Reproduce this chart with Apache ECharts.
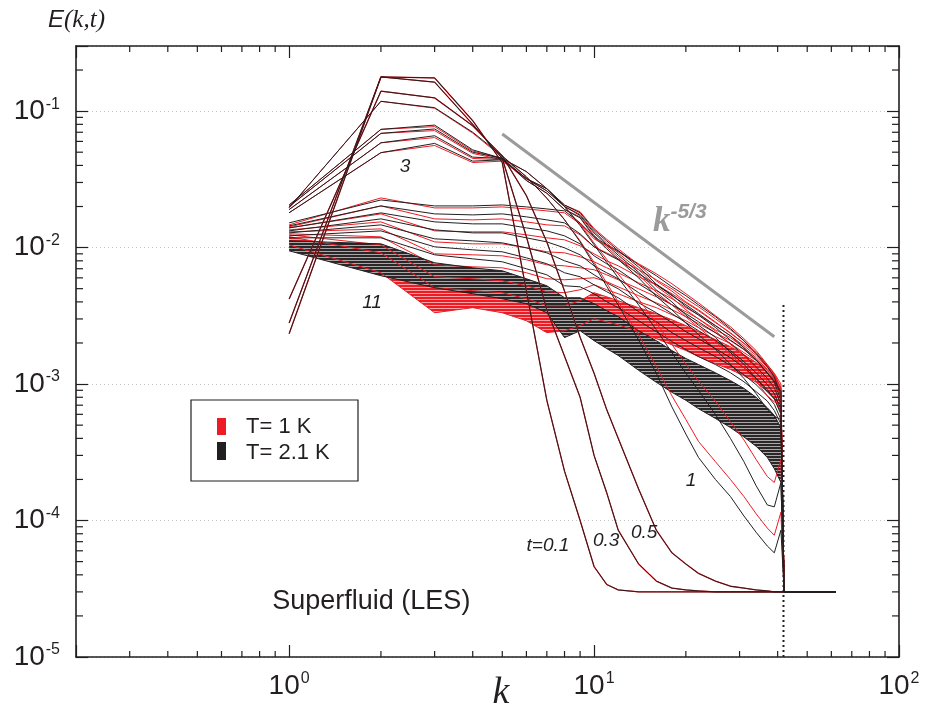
<!DOCTYPE html>
<html>
<head>
<meta charset="utf-8">
<script src="https://cdn.jsdelivr.net/npm/echarts@6/dist/echarts.min.js"></script>
<style>
html,body{margin:0;padding:0;background:#fff;}
#chart{width:925px;height:713px;}
</style>
</head>
<body>
<div id="chart"></div>
<script>
// Wavenumbers at which every spectrum is sampled
const kGrid = [1,2,3,4,5,6,7,8,9,10,11,12,14,16,18,20,22,25,28,31,34,37,39,41];
// Beyond the LES cutoff every spectrum sits on the numerical floor
const floorK = [42, 62];
const floorE = 3.0e-5;

// Early times (both temperatures coincide)
const E_t01 = [2.34e-3,0.178,0.175,0.085,0.042,4.8e-3,7.6e-4,2.3e-4,1.0e-4,4.6e-5,3.4e-5,3.1e-5,3.0e-5,3.0e-5,3.0e-5,3.0e-5,3.0e-5,3.0e-5,3.0e-5,3.0e-5,3.0e-5,3.0e-5,3.0e-5,3.0e-5];
const E_t03 = [2.8e-3,0.178,0.163,0.080,0.045,0.012,3.5e-3,1.6e-3,8.0e-4,3.0e-4,1.6e-4,8.5e-5,4.8e-5,3.6e-5,3.2e-5,3.1e-5,3.05e-5,3.0e-5,3.0e-5,3.0e-5,3.0e-5,3.0e-5,3.0e-5,3.0e-5];
const E_t05 = [4.2e-3,0.14,0.125,0.078,0.047,0.024,0.011,4.8e-3,2.2e-3,1.2e-3,6.5e-4,4.0e-4,1.7e-4,8.5e-5,5.8e-5,4.8e-5,4.1e-5,3.6e-5,3.3e-5,3.2e-5,3.1e-5,3.05e-5,3.0e-5,3.0e-5];

// T = 2.1 K, t = 1 ... 3
const blk_t1  = [0.0196,0.118,0.106,0.070,0.047,0.033,0.023,0.016,0.011,7.5e-3,5.2e-3,3.8e-3,2.1e-3,1.2e-3,6.8e-4,4.3e-4,2.9e-4,2.0e-4,1.5e-4,1.08e-4,8.2e-5,6.5e-5,5.8e-5,8.5e-5];
const blk_t15 = [0.0205,0.0735,0.079,0.052,0.045,0.036,0.027,0.020,0.0145,0.0105,7.8e-3,6.0e-3,3.8e-3,2.5e-3,1.7e-3,1.2e-3,9.0e-4,6.0e-4,4.0e-4,2.7e-4,1.8e-4,1.3e-4,1.26e-4,1.9e-4];
const blk_t2  = [0.020,0.0687,0.074,0.050,0.045,0.031,0.025,0.019,0.0165,0.012,9.8e-3,8.2e-3,6.0e-3,4.4e-3,3.5e-3,2.8e-3,2.3e-3,1.8e-3,1.4e-3,1.1e-3,8.5e-4,6.5e-4,5.8e-4,5.5e-4];
const blk_t25 = [0.019,0.0586,0.066,0.046,0.045,0.032,0.026,0.020,0.0172,0.0128,0.0105,8.8e-3,6.6e-3,4.9e-3,4.0e-3,3.2e-3,2.7e-3,2.2e-3,1.7e-3,1.4e-3,1.1e-3,8.8e-4,7.8e-4,7.0e-4];
const blk_t3  = [0.018,0.0496,0.058,0.043,0.044,0.032,0.027,0.0205,0.018,0.0135,0.0112,9.5e-3,7.2e-3,5.4e-3,4.5e-3,3.7e-3,3.2e-3,2.6e-3,2.1e-3,1.8e-3,1.5e-3,1.2e-3,1.05e-3,8.8e-4];

// T = 1 K, t = 1 ... 3
const red_t1  = [0.0196,0.118,0.105,0.069,0.046,0.033,0.023,0.016,0.0112,7.8e-3,5.5e-3,4.0e-3,2.3e-3,1.35e-3,8.2e-4,5.5e-4,3.8e-4,2.7e-4,2.0e-4,1.5e-4,1.12e-4,8.8e-5,7.8e-5,1.15e-4];
const red_t15 = [0.0205,0.0735,0.077,0.051,0.045,0.036,0.027,0.020,0.0148,0.0108,8.2e-3,6.4e-3,4.2e-3,2.8e-3,1.95e-3,1.4e-3,1.05e-3,7.5e-4,5.3e-4,3.9e-4,2.8e-4,2.1e-4,1.9e-4,2.8e-4];
const red_t2  = [0.020,0.0687,0.072,0.049,0.044,0.031,0.025,0.019,0.0168,0.0123,0.0101,8.5e-3,6.3e-3,4.7e-3,3.8e-3,3.1e-3,2.6e-3,2.05e-3,1.65e-3,1.32e-3,1.05e-3,8.2e-4,7.4e-4,7.2e-4];
const red_t25 = [0.019,0.0586,0.064,0.045,0.044,0.032,0.026,0.020,0.0175,0.0131,0.0108,9.1e-3,6.9e-3,5.2e-3,4.3e-3,3.5e-3,3.0e-3,2.45e-3,1.95e-3,1.62e-3,1.3e-3,1.05e-3,9.4e-4,8.6e-4];
const red_t3  = [0.018,0.0496,0.056,0.042,0.043,0.032,0.027,0.0205,0.0183,0.0138,0.0115,9.8e-3,7.5e-3,5.7e-3,4.8e-3,4.0e-3,3.5e-3,2.85e-3,2.35e-3,2.0e-3,1.7e-3,1.38e-3,1.2e-3,1.0e-3];

// T = 2.1 K, later times (decay up to t = 11)
const blk_b1 = [0.01517,0.02234,0.02020,0.02020,0.02054,0.01986,0.01920,0.01857,0.01517,0.01199,0.01047,0.00947,0.00748,0.00622,0.00516,0.00444,0.00381,0.00312,0.00255,0.00208,0.00167,0.00134,0.00113,0.00082];
const blk_b2 = [0.01442,0.02020,0.01766,0.01736,0.01766,0.01679,0.01596,0.01517,0.01261,0.01013,0.00900,0.00814,0.00643,0.00534,0.00444,0.00381,0.00328,0.00268,0.00226,0.00185,0.00151,0.00121,0.00103,0.00076];
const blk_b3 = [0.01394,0.01796,0.01543,0.01492,0.01492,0.01394,0.01326,0.01219,0.01065,0.00870,0.00761,0.00688,0.00543,0.00451,0.00381,0.00328,0.00286,0.00238,0.00198,0.00164,0.00134,0.00110,0.00094,0.00071];
const blk_b4 = [0.01326,0.01623,0.01348,0.01282,0.01282,0.01179,0.01101,0.00996,0.00885,0.00735,0.00654,0.00591,0.00467,0.00388,0.00328,0.00282,0.00246,0.00208,0.00176,0.00146,0.00121,0.00099,0.00085,0.00065];
const blk_b5 = [0.01282,0.01467,0.01159,0.01120,0.01083,0.00996,0.00915,0.00800,0.00735,0.00632,0.00552,0.00499,0.00394,0.00333,0.00282,0.00242,0.00215,0.00182,0.00156,0.00132,0.00110,0.00091,0.00078,0.00060];
const blk_b6 = [0.01219,0.01326,0.01013,0.00963,0.00931,0.00841,0.00761,0.00654,0.00611,0.00534,0.00475,0.00429,0.00339,0.00286,0.00238,0.00208,0.00185,0.00159,0.00137,0.00117,0.00099,0.00082,0.00071,0.00055];
const blk_b7 = [0.01179,0.01179,0.00885,0.00827,0.00787,0.00699,0.00632,0.00525,0.00516,0.00459,0.00401,0.00363,0.00291,0.00242,0.00205,0.00179,0.00159,0.00139,0.00121,0.00104,0.00088,0.00075,0.00064,0.00051];
const blk_denseTop = [0.01120,0.01065,0.00774,0.00711,0.00676,0.00591,0.00525,0.00429,0.00429,0.00388,0.00345,0.00312,0.00246,0.00208,0.00176,0.00154,0.00139,0.00121,0.00106,0.00093,0.00080,0.00067,0.00059,0.00048];
const blk_denseBot = [0.00947,0.00622,0.00508,0.00459,0.00422,0.00388,0.00333,0.00219,0.00246,0.00208,0.00182,0.00162,0.00126,0.00103,0.00087,0.00076,0.00066,0.00056,0.00048,0.00041,0.00035,0.00029,0.00024,0.00019];

// T = 1 K, later times (decay up to t = 11)
const red_b1 = [0.01467,0.02311,0.01953,0.01953,0.01986,0.01920,0.01857,0.01796,0.01492,0.01159,0.01030,0.00931,0.00761,0.00643,0.00543,0.00459,0.00394,0.00317,0.00263,0.00215,0.00176,0.00139,0.00119,0.00094];
const red_b2 = [0.01418,0.02020,0.01623,0.01596,0.01623,0.01543,0.01467,0.01442,0.01240,0.01013,0.00915,0.00827,0.00688,0.00581,0.00499,0.00422,0.00369,0.00301,0.00250,0.00208,0.00170,0.00137,0.00117,0.00093];
const red_b3 = [0.01394,0.01766,0.01326,0.01304,0.01304,0.01240,0.01179,0.01140,0.01030,0.00900,0.00800,0.00735,0.00611,0.00534,0.00459,0.00394,0.00345,0.00282,0.00238,0.00198,0.00167,0.00134,0.00115,0.00090];
const red_b4 = [0.01348,0.01543,0.01101,0.01065,0.01065,0.00996,0.00931,0.00915,0.00856,0.00787,0.00711,0.00654,0.00552,0.00483,0.00422,0.00363,0.00322,0.00268,0.00226,0.00191,0.00162,0.00132,0.00113,0.00088];
const red_b5 = [0.01304,0.01371,0.00900,0.00885,0.00870,0.00814,0.00748,0.00735,0.00711,0.00688,0.00632,0.00581,0.00499,0.00436,0.00381,0.00339,0.00301,0.00250,0.00219,0.00185,0.00156,0.00128,0.00112,0.00085];
const red_b6 = [0.01261,0.01199,0.00748,0.00723,0.00711,0.00654,0.00591,0.00581,0.00591,0.00601,0.00562,0.00516,0.00444,0.00394,0.00351,0.00312,0.00277,0.00238,0.00208,0.00179,0.00151,0.00126,0.00110,0.00084];
const red_b7 = [0.01240,0.01047,0.00611,0.00591,0.00571,0.00525,0.00475,0.00467,0.00491,0.00534,0.00491,0.00459,0.00401,0.00363,0.00322,0.00291,0.00259,0.00223,0.00198,0.00170,0.00149,0.00123,0.00108,0.00081];
const red_denseTop = [0.01199,0.00915,0.00508,0.00483,0.00467,0.00422,0.00375,0.00375,0.00408,0.00467,0.00436,0.00408,0.00363,0.00328,0.00296,0.00268,0.00242,0.00212,0.00188,0.00164,0.00144,0.00121,0.00106,0.00080];
const red_denseBot = [0.01047,0.00654,0.00333,0.00363,0.00333,0.00291,0.00238,0.00246,0.00268,0.00301,0.00286,0.00272,0.00242,0.00215,0.00194,0.00176,0.00159,0.00141,0.00128,0.00115,0.00103,0.00088,0.00078,0.00062];

// Kolmogorov reference slope k^(-5/3)
const slopeK = [5, 39];
const slopeE = [0.068, 0.00222];

// LES cutoff wavenumber (dotted marker)
const cutoffK = 41.8;
const cutoffE = [1e-5, 3.8e-3];

// Minor tick positions
const xMinor = [0.3,0.4,0.5,0.6,0.7,0.8,0.9,2,3,4,5,6,7,8,9,20,30,40,50,60,70,80,90];
const yMinor = [2e-5,3e-5,4e-5,5e-5,6e-5,7e-5,8e-5,9e-5,2e-4,3e-4,4e-4,5e-4,6e-4,7e-4,8e-4,9e-4,2e-3,3e-3,4e-3,5e-3,6e-3,7e-3,8e-3,9e-3,0.02,0.03,0.04,0.05,0.06,0.07,0.08,0.09,0.2];

// In-plot annotations: [k, E, text]
const timeLabels = [
  [2.40, 0.0389, '3'],
  [1.87, 3.92e-3, '11'],
  [7.06, 6.5e-5, 't=0.1'],
  [10.95, 7.1e-5, '0.3'],
  [14.6, 8.1e-5, '0.5'],
  [20.8, 1.95e-4, '1']
];

const RED = '#ed1c24';
const BLK = '#231f20';
const SANS = "'Liberation Sans', Arial, Helvetica, sans-serif";
const SERIF = "'Liberation Serif', 'Times New Roman', serif";

// Hatching that imitates many tightly packed spectra
function hatch(lineColor, gapColor) {
  const c = document.createElement('canvas');
  c.width = 4; c.height = 3;
  const g = c.getContext('2d');
  g.fillStyle = gapColor; g.fillRect(0, 0, 4, 3);
  g.fillStyle = lineColor; g.fillRect(0, 0, 4, 2);
  return { image: c, repeat: 'repeat' };
}

function spectrum(vals) {
  const pts = kGrid.map((k, i) => [k, vals[i]]);
  floorK.forEach(k => pts.push([k, floorE]));
  return pts;
}
function lineSeries(vals, color, width, z) {
  return {
    type: 'line', data: spectrum(vals), symbol: 'none', showSymbol: false,
    lineStyle: { color: color, width: width }, z: z, silent: true, animation: false
  };
}
function bandSeries(top, bot, fill, z) {
  return {
    type: 'custom', coordinateSystem: 'cartesian2d', silent: true, z: z, animation: false,
    data: [[kGrid[0], top[0]]],
    renderItem: function (params, api) {
      const upper = kGrid.map((k, i) => api.coord([k, top[i]]));
      const lower = kGrid.map((k, i) => api.coord([k, bot[i]])).reverse();
      return { type: 'polygon', shape: { points: upper.concat(lower) }, style: { fill: fill } };
    }
  };
}
function textSeries(items, label, z) {
  return {
    type: 'scatter', symbolSize: 0, silent: true, z: z, animation: false,
    itemStyle: { opacity: 1 }, emphasis: { disabled: true },
    data: items, label: Object.assign({ show: true, position: 'inside', opacity: 1 }, label)
  };
}

function decadeLabel(v) {
  const e = Math.log10(v);
  if (Math.abs(e - Math.round(e)) > 1e-6) return '';
  return '{b|10}{s|' + Math.round(e) + '}';
}
const richLabel = {
  b: { fontFamily: SANS, fontSize: 28, color: BLK, lineHeight: 30 },
  s: { fontFamily: SANS, fontSize: 16, color: BLK, lineHeight: 16, padding: [0, 0, 14, 1] }
};

const series = [];
// dense late-time bands
series.push(bandSeries(red_denseTop, red_denseBot, hatch('#ed1c24', '#f7a3a6'), 1));
series.push(bandSeries(blk_denseTop, blk_denseBot, hatch('#2b2728', '#a9a7a8'), 2));

// late-time spectra
[red_b1, red_b2, red_b3, red_b4, red_b5, red_b6, red_b7, red_denseTop, red_denseBot]
  .forEach(v => series.push(lineSeries(v, RED, 1, 3)));
[blk_b1, blk_b2, blk_b3, blk_b4, blk_b5, blk_b6, blk_b7, blk_denseTop, blk_denseBot]
  .forEach(v => series.push(lineSeries(v, BLK, 1, 4)));

// early spectra
[E_t01, E_t03, E_t05].forEach(v => series.push(lineSeries(v, RED, 1.3, 5)));
[red_t1, red_t15, red_t2, red_t25, red_t3].forEach(v => series.push(lineSeries(v, RED, 1, 5)));
[E_t01, E_t03, E_t05, blk_t1, blk_t15, blk_t2, blk_t25, blk_t3]
  .forEach(v => series.push(lineSeries(v, BLK, 1, 6)));

// k^-5/3 guide
series.push({
  type: 'line', data: slopeK.map((k, i) => [k, slopeE[i]]), symbol: 'none',
  lineStyle: { color: '#9b9b9b', width: 3 }, z: 7, silent: true, animation: false
});
// cutoff marker
series.push({
  type: 'line', data: cutoffE.map(e => [cutoffK, e]), symbol: 'none',
  lineStyle: { color: BLK, width: 2, type: [2, 3] }, z: 7, silent: true, animation: false
});

// minor ticks on all four sides
series.push({
  type: 'custom', coordinateSystem: 'cartesian2d', silent: true, z: 10, animation: false,
  data: xMinor.map(v => [v, 1e-3]),
  renderItem: function (params, api) {
    const p = api.coord([api.value(0), api.value(1)]);
    const cs = params.coordSys;
    const st = { stroke: BLK, lineWidth: 1.2 };
    return { type: 'group', children: [
      { type: 'line', shape: { x1: p[0], y1: cs.y + cs.height, x2: p[0], y2: cs.y + cs.height - 6 }, style: st },
      { type: 'line', shape: { x1: p[0], y1: cs.y, x2: p[0], y2: cs.y + 6 }, style: st }
    ] };
  }
});
series.push({
  type: 'custom', coordinateSystem: 'cartesian2d', silent: true, z: 10, animation: false,
  data: yMinor.map(v => [1, v]),
  renderItem: function (params, api) {
    const p = api.coord([api.value(0), api.value(1)]);
    const cs = params.coordSys;
    const st = { stroke: BLK, lineWidth: 1.2 };
    return { type: 'group', children: [
      { type: 'line', shape: { x1: cs.x, y1: p[1], x2: cs.x + 7, y2: p[1] }, style: st },
      { type: 'line', shape: { x1: cs.x + cs.width, y1: p[1], x2: cs.x + cs.width - 7, y2: p[1] }, style: st }
    ] };
  }
});

// time annotations
series.push(textSeries(
  timeLabels.map(d => ({ value: [d[0], d[1]], name: d[2] })),
  { formatter: '{b}', fontFamily: SANS, fontStyle: 'italic', fontSize: 19, color: BLK }, 11));
// slope label
series.push(textSeries(
  [{ value: [19.1, 0.0154], name: 'slope' }],
  { formatter: '{k|k}{s|-5/3}',
    rich: {
      k: { fontFamily: SERIF, fontStyle: 'italic', fontWeight: 'bold', fontSize: 35, color: '#9b9b9b', lineHeight: 36 },
      s: { fontFamily: SANS, fontStyle: 'italic', fontWeight: 'bold', fontSize: 21, color: '#9b9b9b', lineHeight: 21, padding: [0, 0, 20, 0] }
    } }, 11));
// case label
series.push(textSeries(
  [{ value: [1.86, 2.53e-5], name: 'Superfluid (LES)' }],
  { formatter: '{b}', fontFamily: SANS, fontSize: 27, color: BLK }, 11));

const axisCommon = {
  type: 'log', logBase: 10,
  axisLine: { show: true, lineStyle: { color: BLK, width: 1.6 } },
  axisTick: { show: true, inside: true, length: 12, lineStyle: { color: BLK, width: 1.2 } },
  splitLine: { show: false }
};

const chart = echarts.init(document.getElementById('chart'), null, { renderer: 'canvas' });
chart.setOption({
  animation: false,
  backgroundColor: '#fff',
  grid: { left: 76, right: 26, top: 46, bottom: 56, containLabel: false },
  xAxis: [
    Object.assign({}, axisCommon, {
      min: 0.2, max: 100, position: 'bottom',
      axisLabel: { show: true, margin: 14, formatter: decadeLabel, rich: richLabel }
    }),
    Object.assign({}, axisCommon, {
      min: 0.2, max: 100, position: 'top', axisLabel: { show: false }
    })
  ],
  yAxis: [
    Object.assign({}, axisCommon, {
      min: 1e-5, max: 0.3, position: 'left',
      axisLabel: { show: true, margin: 16, formatter: decadeLabel, rich: richLabel },
      splitLine: { show: true, lineStyle: { color: '#c4c4c4', width: 1, type: [1, 3] } }
    }),
    Object.assign({}, axisCommon, {
      min: 1e-5, max: 0.3, position: 'right', axisLabel: { show: false }
    })
  ],
  series: series,
  graphic: [
    { type: 'text', left: 48, top: 8, z: 20, style: {
        text: '{e|E}{p|(k,t)}',
        rich: {
          e: { fontFamily: SANS, fontStyle: 'italic', fontSize: 24, fill: BLK },
          p: { fontFamily: SERIF, fontStyle: 'italic', fontSize: 25, fill: BLK }
        } } },
    { type: 'text', x: 501, y: 693, z: 20, style: {
        text: 'k', fontFamily: SERIF, fontStyle: 'italic', fontSize: 38, fill: BLK,
        align: 'center', verticalAlign: 'middle' } },
    // legend box
    { type: 'rect', z: 20, shape: { x: 191, y: 400, width: 167, height: 81 },
      style: { fill: '#fff', stroke: BLK, lineWidth: 1.2 } },
    { type: 'rect', z: 21, shape: { x: 217, y: 418, width: 9, height: 17 }, style: { fill: RED } },
    { type: 'rect', z: 21, shape: { x: 217, y: 442, width: 9, height: 18 }, style: { fill: BLK } },
    { type: 'text', z: 21, x: 246, y: 427, style: { text: 'T= 1 K', fontFamily: SANS, fontSize: 22, fill: BLK, verticalAlign: 'middle' } },
    { type: 'text', z: 21, x: 246, y: 453, style: { text: 'T= 2.1 K', fontFamily: SANS, fontSize: 22, fill: BLK, verticalAlign: 'middle' } }
  ]
});
</script>
</body>
</html>
